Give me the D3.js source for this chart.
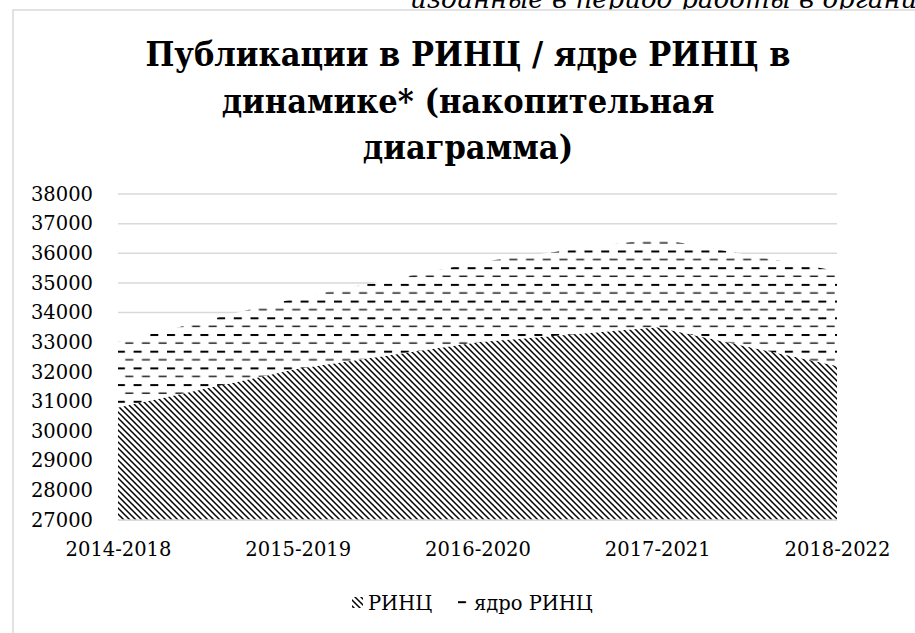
<!DOCTYPE html>
<html>
<head>
<meta charset="utf-8">
<script src="https://cdn.jsdelivr.net/npm/d3@7"></script>
<style>
  body { margin: 0; background: #fff; overflow: hidden; }
  svg { display: block; font-family: "DejaVu Serif", serif; }
</style>
</head>
<body>
<svg></svg>
<script>
const categories = ["2014-2018", "2015-2019", "2016-2020", "2017-2021", "2018-2022"]
const rincValues = [30800, 32100, 33000, 33500, 32200]
const coreValues = [2200, 2400, 2700, 3000, 3200]
const yTicks = d3.range(27000, 38001, 1000)
const seriesNames = ["РИНЦ", "ядро РИНЦ"]
const titleLines = ["Публикации в РИНЦ / ядре РИНЦ в", "динамике* (накопительная", "диаграмма)"]
const topText = "изданные в период работы в организации"

const data = categories.map((c, i) => ({ cat: c, rinc: rincValues[i], core: coreValues[i] }))

const svg = d3.select("svg")
  .attr("width", 915)
  .attr("height", 633)

const x = d3.scalePoint()
  .domain(categories)
  .range([118, 837])

const y = d3.scaleLinear()
  .domain([27000, 38000])
  .range([520, 194])

const defs = svg.append("defs")

// dark downward diagonal
const diag = defs.append("pattern")
  .attr("id", "diag")
  .attr("patternUnits", "userSpaceOnUse")
  .attr("width", 6)
  .attr("height", 6)
diag.append("rect").attr("width", 6).attr("height", 6).attr("fill", "#fff")
diag.append("path")
  .attr("d", "M0,0L6,6M-1,5L1,7M5,-1L7,1")
  .attr("stroke", "#000")
  .attr("stroke-width", 1.5)

// dashed horizontal
const dash = defs.append("pattern")
  .attr("id", "dash")
  .attr("patternUnits", "userSpaceOnUse")
  .attr("width", 16.7)
  .attr("height", 16.7)
dash.append("rect").attr("width", 16.7).attr("height", 16.7).attr("fill", "#fff")
dash.append("rect").attr("x", 0).attr("y", 0).attr("width", 8).attr("height", 2).attr("fill", "#000")
dash.append("rect").attr("x", 8.35).attr("y", 8.35).attr("width", 8).attr("height", 1.5).attr("fill", "#222")

defs.append("clipPath")
  .attr("id", "plot")
  .append("rect")
  .attr("x", 118)
  .attr("y", 194)
  .attr("width", 837 - 118)
  .attr("height", 520 - 194)

// text from the page above the chart
svg.append("text")
  .attr("x", 410)
  .attr("y", 8)
  .style("font-style", "italic")
  .style("font-size", "26px")
  .attr("fill", "#000")
  .text(topText)

// chart area border
svg.append("rect")
  .attr("x", 13)
  .attr("y", 10)
  .attr("width", 1000)
  .attr("height", 700)
  .attr("fill", "#fff")
  .attr("stroke", "#d9d9d9")
  .attr("stroke-width", 1.5)

svg.append("text")
  .attr("text-anchor", "middle")
  .style("font-family", "'DejaVu Serif Condensed', 'DejaVu Serif', serif")
  .style("font-stretch", "condensed")
  .style("font-weight", "bold")
  .style("font-size", "34px")
  .selectAll("tspan")
  .data(titleLines)
  .enter().append("tspan")
  .attr("x", 468)
  .attr("y", (d, i) => 66 + i * 46.5)
  .text(d => d)

// gridlines
svg.append("g")
  .selectAll("line")
  .data(yTicks)
  .enter().append("line")
  .attr("x1", 118)
  .attr("x2", 837)
  .attr("y1", d => y(d))
  .attr("y2", d => y(d))
  .attr("stroke", "#d9d9d9")
  .attr("stroke-width", 1.5)

const stack = d3.stack().keys(["rinc", "core"])
const layers = stack(data)

const area = d3.area()
  .x(d => x(d.data.cat))
  .y0(d => y(d[0]))
  .y1(d => y(d[1]))

svg.append("g")
  .attr("clip-path", "url(#plot)")
  .selectAll("path")
  .data(layers)
  .enter().append("path")
  .attr("d", area)
  .attr("fill", (d, i) => i == 0 ? "url(#diag)" : "url(#dash)")

svg.append("line")
  .attr("x1", 118)
  .attr("x2", 837)
  .attr("y1", y(27000))
  .attr("y2", y(27000))
  .attr("stroke", "#d9d9d9")
  .attr("stroke-width", 1.5)

const yAxis = svg.append("g")
  .attr("transform", "translate(93,0)")
  .call(d3.axisLeft(y).tickValues(yTicks).tickSize(0).tickPadding(0).tickFormat(d3.format("d")))
yAxis.select(".domain").remove()
yAxis.selectAll("text")
  .style("font-family", "'DejaVu Serif', serif")
  .style("font-size", "19.5px")
  .attr("fill", "#000")

const xAxis = svg.append("g")
  .attr("transform", "translate(0,520)")
  .call(d3.axisBottom(x).tickSize(0).tickPadding(22))
xAxis.select(".domain").remove()
xAxis.selectAll("text")
  .style("font-family", "'DejaVu Serif', serif")
  .style("font-size", "19.5px")
  .attr("fill", "#000")

// legend
const legendX = [352, 458]
const legend = svg.append("g")
  .selectAll("g")
  .data(seriesNames)
  .enter().append("g")
  .attr("transform", (d, i) => `translate(${legendX[i]},0)`)

legend.append("rect")
  .attr("x", 0)
  .attr("y", 597)
  .attr("width", 11)
  .attr("height", 11)
  .attr("fill", (d, i) => i == 0 ? "url(#diag)" : "url(#dash)")

legend.append("text")
  .attr("x", 16)
  .attr("y", 610)
  .style("font-size", "19.5px")
  .attr("fill", "#000")
  .text(d => d)
</script>
</body>
</html>
